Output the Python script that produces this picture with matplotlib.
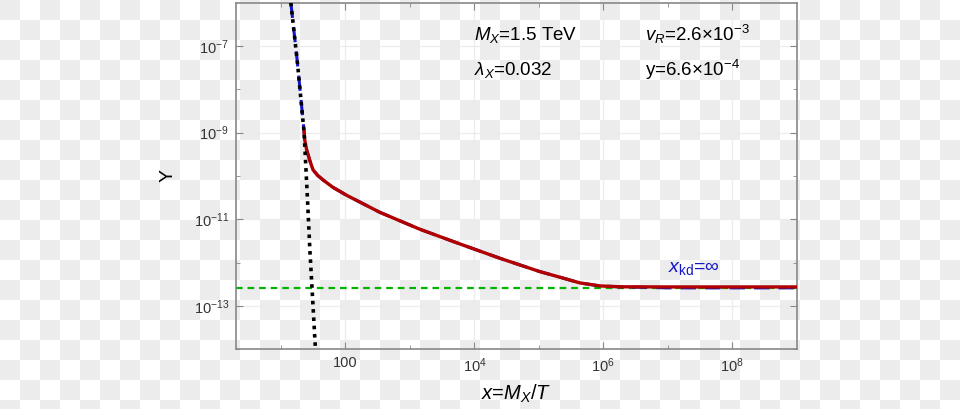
import numpy as np
import matplotlib.pyplot as plt
from matplotlib.ticker import FixedLocator, NullFormatter

plt.rcParams['font.family'] = ['Liberation Sans', 'DejaVu Sans']
plt.rcParams['mathtext.fontset'] = 'custom'
plt.rcParams['mathtext.rm'] = 'Liberation Sans'
plt.rcParams['mathtext.it'] = 'Liberation Sans:italic'

# equilibrium curve (black dotted)
x_eq = [14.2, 18.0, 22.8, 25.7, 28.0, 30.3, 34.2]
y_eq = [1e-6, 4.0e-8, 1e-9, 3.0e-11, 2.0e-12, 2.5e-13, 1e-14]

# freeze-out yield (red solid)
x_red = [22.8, 23.3, 25.1, 27.9, 31.4, 37.1, 44.9, 63.5, 103.7, 341, 1426, 5960, 24900,
         104000, 213000, 434000, 889000, 1.82e6, 1e7, 1e9]
y_red = [1.05e-9, 6.8e-10, 3.9e-10, 2.3e-10, 1.38e-10, 1.03e-10, 8.1e-11, 5.5e-11, 3.6e-11,
         1.45e-11, 5.9e-12, 2.7e-12, 1.26e-12, 6.2e-13, 4.6e-13, 3.4e-13, 2.9e-13,
         2.77e-13, 2.75e-13, 2.75e-13]

# x_kd = infinity curve (blue dashed): follows equilibrium, then the red curve
x_blue = [14.2, 18.0] + x_red
y_blue = [1e-6, 4.0e-8] + y_red[:-2] + [2.62e-13, 2.62e-13]

# asymptotic value (green dashed)
y_inf = 2.55e-13

fig = plt.figure(figsize=(9.6, 4.09), dpi=100)

# transparent-background checkerboard
bg = fig.add_axes([0, 0, 1, 1], zorder=-10)
ii, jj = np.meshgrid(np.arange(48), np.arange(21))
board = np.where((ii + jj) % 2 == 0, 0.925, 1.0)
bg.imshow(board, cmap='gray', vmin=0, vmax=1, extent=(0, 960, 420, 0), interpolation='nearest')
bg.set_xlim(0, 960)
bg.set_ylim(409, 0)
bg.axis('off')

ax = fig.add_axes([0.2458, 0.146, 0.5841, 0.8474])
ax.set_facecolor('none')
ax.set_xscale('log')
ax.set_yscale('log')
ax.set_xlim(2, 1e9)
ax.set_ylim(1e-14, 1e-6)

ax.axhline(y_inf, color='#00b400', lw=1.6, ls=(0, (3, 2.2)), zorder=2)
ax.plot(x_blue, y_blue, color='#1414c8', lw=2.2, ls=(0, (5, 3)), zorder=3)
ax.plot(x_red, y_red, color='#b00000', lw=2.4, zorder=4)
ax.plot(x_eq, y_eq, color='black', lw=2.6, ls=(0, (1, 1.3)), zorder=5)

ax.xaxis.set_major_locator(FixedLocator([1e2, 1e4, 1e6, 1e8]))
ax.xaxis.set_minor_locator(FixedLocator([1e1, 1e3, 1e5, 1e7]))
ax.xaxis.set_minor_formatter(NullFormatter())
ax.set_xticklabels(['100', r'$10^4$', r'$10^6$', r'$10^8$'])
ax.yaxis.set_major_locator(FixedLocator([1e-13, 1e-11, 1e-9, 1e-7]))
ax.yaxis.set_minor_locator(FixedLocator([1e-14, 1e-12, 1e-10, 1e-8]))
ax.yaxis.set_minor_formatter(NullFormatter())
ax.set_yticklabels([r'$10^{-13}$', r'$10^{-11}$', r'$10^{-9}$', r'$10^{-7}$'])

ax.tick_params(which='both', direction='in', top=True, right=True, color='#888888',
               labelsize=10.5, labelcolor='#333333')
ax.tick_params(which='major', length=5, pad=5)
ax.tick_params(which='minor', length=3)
ax.grid(True, which='major', color='#ececec', lw=0.9)
for s in ax.spines.values():
    s.set_color('#888888')
    s.set_linewidth(1.2)

ax.set_xlabel(r'$x$=$M_X$/$T$', fontsize=14.5, labelpad=6)
ax.set_ylabel('Y', fontsize=14, labelpad=12)

ax.text(0.425, 0.907, r'$M_X$=1.5 TeV', transform=ax.transAxes, fontsize=13.5, va='center')
ax.text(0.425, 0.806, r'$\lambda_X$=0.032', transform=ax.transAxes, fontsize=13.5, va='center')
ax.text(0.73, 0.907, r'$v_R$=2.6$\times$10$^{-3}$', transform=ax.transAxes, fontsize=13.5, va='center')
ax.text(0.73, 0.806, r'y=6.6$\times$10$^{-4}$', transform=ax.transAxes, fontsize=13.5, va='center')
ax.text(0.771, 0.232, r'$x_{\mathrm{kd}}$=$\infty$', transform=ax.transAxes, fontsize=14,
        va='center', color='#1414c8')

fig.savefig('out.png', dpi=100)
